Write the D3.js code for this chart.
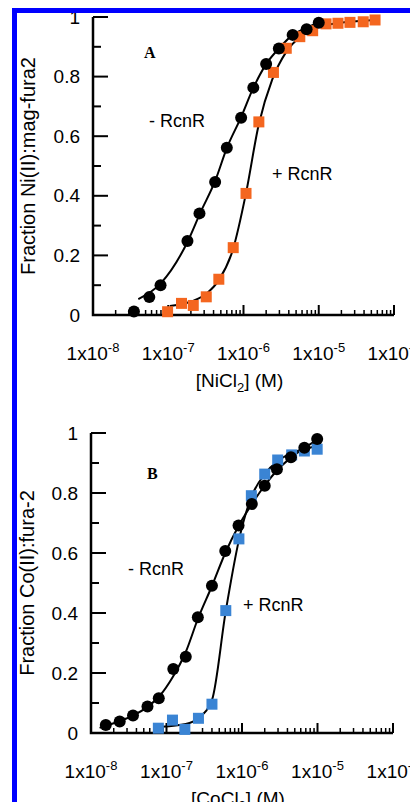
<!DOCTYPE html>
<html>
<head>
<meta charset="utf-8">
<script src="https://cdn.jsdelivr.net/npm/d3@7"></script>
<style>
  body { margin: 0; background: #fff; }
  svg { display: block; }
</style>
</head>
<body>
<svg id="chart" width="410" height="802"></svg>
<script>
// Panel A: Ni(II) titration, mag-fura2
const niMinusConc = [3.5e-8, 5.6e-8, 7.9e-8, 1.8e-7, 2.6e-7, 4.2e-7, 6.0e-7, 9.3e-7, 1.35e-6, 2.0e-6, 2.95e-6, 4.5e-6, 6.9e-6, 1.0e-5];
const niMinusFrac = [0.012, 0.06, 0.10, 0.248, 0.341, 0.446, 0.561, 0.662, 0.763, 0.842, 0.894, 0.940, 0.959, 0.981];
const niPlusConc = [9.8e-8, 1.5e-7, 2.15e-7, 3.2e-7, 4.7e-7, 7.3e-7, 1.08e-6, 1.6e-6, 2.5e-6, 3.7e-6, 5.6e-6, 8.3e-6, 1.25e-5, 1.8e-5, 2.6e-5, 3.9e-5, 5.6e-5];
const niPlusFrac = [0.011, 0.039, 0.032, 0.061, 0.120, 0.226, 0.408, 0.648, 0.814, 0.895, 0.934, 0.954, 0.977, 0.979, 0.982, 0.984, 0.99];
// fitted lines
const niMinusFitConc = [4.0e-8, 8.0e-8, 1.8e-7, 2.7e-7, 4.2e-7, 6.0e-7, 9.3e-7, 1.35e-6, 2.0e-6, 3.0e-6, 4.5e-6, 6.8e-6, 1.0e-5];
const niMinusFitFrac = [0.053, 0.107, 0.245, 0.346, 0.45, 0.56, 0.664, 0.762, 0.842, 0.896, 0.94, 0.963, 0.983];
const niPlusFitConc = [1.05e-7, 2.1e-7, 3.3e-7, 4.7e-7, 7.2e-7, 1.08e-6, 1.6e-6, 2.4e-6, 3.7e-6, 5.6e-6, 8.4e-6, 1.25e-5, 5.6e-5];
const niPlusFitFrac = [0.03, 0.047, 0.074, 0.117, 0.218, 0.409, 0.641, 0.789, 0.883, 0.933, 0.96, 0.973, 0.99];

// Panel B: Co(II) titration, fura-2
const coMinusConc = [1.57e-8, 2.4e-8, 3.6e-8, 5.6e-8, 7.9e-8, 1.23e-7, 1.8e-7, 2.6e-7, 4.0e-7, 6.0e-7, 9.0e-7, 1.35e-6, 2.0e-6, 2.9e-6, 4.45e-6, 6.7e-6, 9.9e-6];
const coMinusFrac = [0.027, 0.038, 0.058, 0.088, 0.116, 0.213, 0.254, 0.386, 0.491, 0.607, 0.692, 0.763, 0.824, 0.879, 0.919, 0.951, 0.98];
const coPlusConc = [7.8e-8, 1.2e-7, 1.75e-7, 2.65e-7, 4.0e-7, 6.1e-7, 9.1e-7, 1.33e-6, 2.0e-6, 2.97e-6, 4.55e-6, 6.7e-6, 9.9e-6];
const coPlusFrac = [0.016, 0.043, 0.012, 0.049, 0.096, 0.408, 0.647, 0.791, 0.863, 0.91, 0.927, 0.94, 0.946];
const coMinusFitConc = [1.3e-8, 2.4e-8, 3.6e-8, 5.6e-8, 8.2e-8, 1.2e-7, 1.8e-7, 2.6e-7, 4.0e-7, 6.0e-7, 9.0e-7, 1.35e-6, 2.0e-6, 2.9e-6, 4.45e-6, 6.7e-6, 1.0e-5];
const coMinusFitFrac = [0.017, 0.04, 0.058, 0.087, 0.125, 0.185, 0.27, 0.38, 0.49, 0.6, 0.69, 0.763, 0.825, 0.875, 0.918, 0.95, 0.978];
const coPlusFitConc = [8.6e-8, 1.8e-7, 2.65e-7, 4.0e-7, 6.1e-7, 9.1e-7, 1.33e-6, 2.0e-6, 3.0e-6, 4.5e-6, 6.7e-6, 1.0e-5];
const coPlusFitFrac = [0.021, 0.03, 0.05, 0.11, 0.407, 0.643, 0.787, 0.863, 0.907, 0.933, 0.947, 0.957];

const xTickExps = [-8, -7, -6, -5, -4];
const yTicks = [0, 0.2, 0.4, 0.6, 0.8, 1];
const yMinorTicks = [0.1, 0.3, 0.5, 0.7, 0.9];

const ORANGE = '#f4661f';
const BLUE = '#3a84d4';
const FONT = '"Liberation Sans", Arial, sans-serif';

const svg = d3.select('#chart');

const zip = (xs, ys) => xs.map((x, i) => ({ x: x, y: ys[i] }));

function drawPanel(opt) {
  const x = d3.scaleLog().domain([1e-8, 1e-4]).range([opt.left, opt.right]);
  const y = d3.scaleLinear().domain([0, 1]).range([opt.bottom, opt.top]);
  const g = svg.append('g');

  // minor x ticks (2..9 per decade), pointing up
  let minor = [];
  for (let e = -8; e < -4; e++) {
    for (let m = 2; m <= 9; m++) minor.push(m * Math.pow(10, e));
  }
  g.append('g')
    .selectAll('line')
    .data(minor)
    .join('line')
    .attr('x1', d => x(d)).attr('x2', d => x(d))
    .attr('y1', opt.bottom).attr('y2', opt.bottom - 5)
    .attr('stroke', '#000').attr('stroke-width', 1.5);

  g.append('g')
    .selectAll('line')
    .data(xTickExps)
    .join('line')
    .attr('x1', d => x(Math.pow(10, d))).attr('x2', d => x(Math.pow(10, d)))
    .attr('y1', opt.bottom).attr('y2', opt.bottom - 10)
    .attr('stroke', '#000').attr('stroke-width', 2);

  // y ticks, pointing right
  g.append('g')
    .selectAll('line')
    .data(yTicks)
    .join('line')
    .attr('x1', opt.left).attr('x2', opt.left + 15)
    .attr('y1', d => y(d)).attr('y2', d => y(d))
    .attr('stroke', '#000').attr('stroke-width', 2);
  g.append('g')
    .selectAll('line')
    .data(yMinorTicks)
    .join('line')
    .attr('x1', opt.left).attr('x2', opt.left + 8)
    .attr('y1', d => y(d)).attr('y2', d => y(d))
    .attr('stroke', '#000').attr('stroke-width', 2);

  // axis lines
  g.append('path')
    .attr('d', `M${opt.left},${opt.top}V${opt.bottom}H${opt.right}`)
    .attr('fill', 'none').attr('stroke', '#000').attr('stroke-width', 2.5);

  // y tick labels
  g.append('g')
    .selectAll('text')
    .data(yTicks)
    .join('text')
    .attr('x', opt.left - 13)
    .attr('y', d => y(d))
    .attr('dy', '0.35em')
    .attr('text-anchor', 'end')
    .style('font', `19px ${FONT}`)
    .text(d => d === 0 || d === 1 ? d : d.toFixed(1));

  // x tick labels 1x10^n
  const xl = g.append('g')
    .selectAll('text')
    .data(xTickExps)
    .join('text')
    .attr('x', d => x(Math.pow(10, d)))
    .attr('y', opt.bottom + 45)
    .attr('text-anchor', 'middle')
    .style('font', `19px ${FONT}`);
  xl.append('tspan').text('1x10');
  xl.append('tspan').attr('dy', -8).style('font-size', '13px').text(d => d);

  // x title
  const xt = g.append('text')
    .attr('x', (opt.left + opt.right) / 2 - 4)
    .attr('y', opt.bottom + 72)
    .attr('text-anchor', 'middle')
    .style('font', `19px ${FONT}`);
  xt.append('tspan').text(opt.xTitle[0]);
  xt.append('tspan').attr('dy', 5).style('font-size', '13px').text('2');
  xt.append('tspan').attr('dy', -5).text(opt.xTitle[1]);

  // y title
  g.append('text')
    .attr('transform', `translate(${opt.yTitleX},${(opt.top + opt.bottom) / 2}) rotate(-90)`)
    .attr('text-anchor', 'middle')
    .style('font', `20px ${FONT}`)
    .text(opt.yTitle);

  // fit lines
  const line = d3.line().x(d => x(d.x)).y(d => y(d.y)).curve(d3.curveMonotoneX);
  opt.fits.forEach(f => {
    g.append('path').datum(f)
      .attr('d', line)
      .attr('fill', 'none').attr('stroke', '#000').attr('stroke-width', 2);
  });

  // squares (+ RcnR)
  g.append('g')
    .selectAll('rect')
    .data(opt.squares)
    .join('rect')
    .attr('x', d => x(d.x) - 5.5)
    .attr('y', d => y(d.y) - 5.5)
    .attr('width', 11).attr('height', 11)
    .attr('fill', opt.squareColor);

  // circles (- RcnR)
  g.append('g')
    .selectAll('circle')
    .data(opt.circles)
    .join('circle')
    .attr('cx', d => x(d.x))
    .attr('cy', d => y(d.y))
    .attr('r', 6)
    .attr('fill', '#000');

  // panel letter and labels
  g.append('text')
    .attr('x', opt.letter[0]).attr('y', opt.letter[1])
    .style('font', `bold 16px "Liberation Serif", "Times New Roman", serif`)
    .text(opt.letter[2]);
  opt.labels.forEach(l => {
    g.append('text')
      .attr('x', l[0]).attr('y', l[1])
      .style('font', `18px ${FONT}`)
      .text(l[2]);
  });
}

drawPanel({
  left: 93, right: 394, top: 17, bottom: 315,
  xTitle: ['[NiCl', '] (M)'],
  yTitle: 'Fraction Ni(II):mag-fura2',
  yTitleX: 35,
  fits: [zip(niMinusFitConc, niMinusFitFrac), zip(niPlusFitConc, niPlusFitFrac)],
  squares: zip(niPlusConc, niPlusFrac),
  circles: zip(niMinusConc, niMinusFrac),
  squareColor: ORANGE,
  letter: [144, 58, 'A'],
  labels: [[149, 127, '- RcnR'], [272, 180, '+ RcnR']]
});

drawPanel({
  left: 91, right: 393, top: 433, bottom: 733,
  xTitle: ['[CoCl', '] (M)'],
  yTitle: 'Fraction Co(II):fura-2',
  yTitleX: 34,
  fits: [zip(coMinusFitConc, coMinusFitFrac), zip(coPlusFitConc, coPlusFitFrac)],
  squares: zip(coPlusConc, coPlusFrac),
  circles: zip(coMinusConc, coMinusFrac),
  squareColor: BLUE,
  letter: [147, 479, 'B'],
  labels: [[128, 575, '- RcnR'], [243, 611, '+ RcnR']]
});

// blue frame around the figure
svg.append('rect')
  .attr('x', 14.5).attr('y', 10.5)
  .attr('width', 600).attr('height', 900)
  .attr('fill', 'none')
  .attr('stroke', '#0000ff')
  .attr('stroke-width', 5);
</script>
</body>
</html>
